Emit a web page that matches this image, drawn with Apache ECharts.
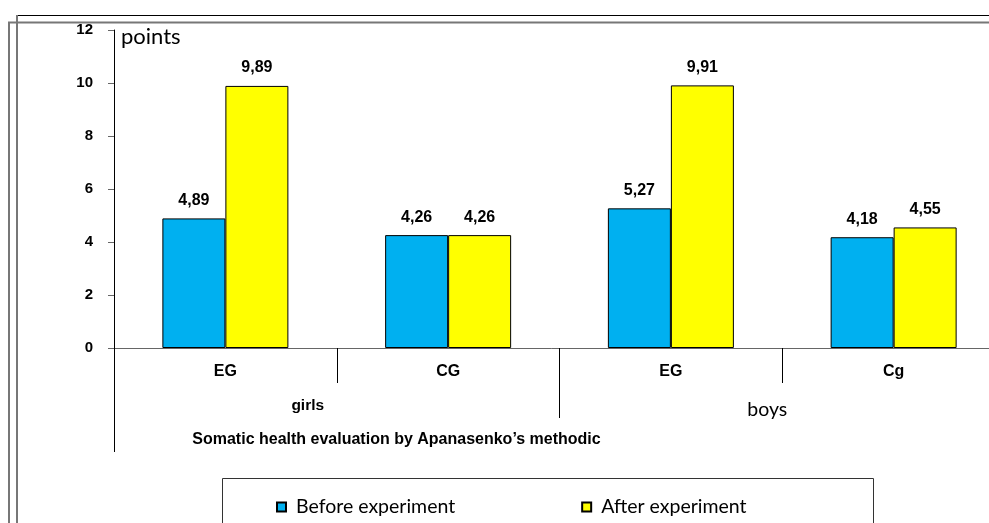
<!DOCTYPE html>
<html>
<head>
<meta charset="utf-8">
<title>Somatic health evaluation</title>
<script src="https://cdn.jsdelivr.net/npm/echarts@6/dist/echarts.min.js"></script>
<style>
  html, body { margin: 0; padding: 0; background: #fff; }
  #chart { width: 989px; height: 523px; }
</style>
</head>
<body>
<div id="chart"></div>
<script>
// Groups along the x axis
const categories = ['EG', 'CG', 'EG', 'Cg'];
const groups = ['girls', 'boys'];
const axisTitle = ['Somatic health evaluation by Apanasenko\u2019s methodic'];

// Scores in points
const beforeValues = [4.89, 4.26, 5.27, 4.18];
const afterValues = [9.89, 4.26, 9.91, 4.55];

const seriesNames = ['Before experiment', 'After experiment'];
const yTicks = [0, 2, 4, 6, 8, 10, 12];

const BOLD = 'Liberation Sans';
const SOFT = 'Lato';

const fmt = v => v.toFixed(2).replace('.', ',');

const chart = echarts.init(document.getElementById('chart'), null, { renderer: 'canvas' });

const barLabel = {
  show: true,
  position: 'top',
  distance: 10,
  fontFamily: BOLD,
  fontWeight: 'bold',
  fontSize: 16,
  color: '#000',
  formatter: p => fmt(p.value)
};

chart.setOption({
  animation: false,
  backgroundColor: '#fff',
  grid: {
    left: 114, top: 30, width: 891, height: 318,
    containLabel: false,
    outerBoundsMode: 'none'
  },
  legend: {
    left: 271,
    top: 492,
    itemWidth: 9,
    itemHeight: 9,
    itemGap: 126,
    icon: 'rect',
    textStyle: { fontFamily: SOFT, fontSize: 19.5, color: '#000', padding: [0, 0, 0, 5] },
    data: seriesNames
  },
  xAxis: [
    {
      type: 'category',
      data: categories,
      position: 'bottom',
      axisLine: { show: true, lineStyle: { color: '#666', width: 1 } },
      axisTick: { show: true, interval: 0, length: 35, lineStyle: { color: '#000' } },
      axisLabel: {
        interval: 0, margin: 16,
        fontFamily: BOLD, fontWeight: 'bold', fontSize: 16, color: '#000'
      }
    },
    {
      type: 'category',
      data: groups,
      position: 'bottom',
      axisLine: { show: false },
      axisTick: { show: true, interval: 0, length: 70, lineStyle: { color: '#000' } },
      axisLabel: {
        interval: 0, margin: 50,
        formatter: v => v === 'girls' ? '{g|' + v + '}' : '{b|' + v + '}',
        rich: {
          g: { fontFamily: BOLD, fontWeight: 'bold', fontSize: 15.5, color: '#000', padding: [0, 58, 0, 0] },
          b: { fontFamily: SOFT, fontSize: 19.5, color: '#000', padding: [2, 30, 0, 0] }
        }
      }
    },
    {
      type: 'category',
      data: axisTitle,
      position: 'bottom',
      axisLine: { show: false },
      axisTick: { show: true, interval: 0, length: 104, lineStyle: { color: '#000' } },
      axisLabel: {
        interval: 0, margin: 84,
        formatter: v => '{t|' + v + '}',
        rich: {
          t: { fontFamily: BOLD, fontWeight: 'bold', fontSize: 16, color: '#000', padding: [0, 326, 0, 0] }
        }
      }
    }
  ],
  yAxis: {
    type: 'value',
    min: yTicks[0],
    max: yTicks[yTicks.length - 1],
    interval: 2,
    name: 'points',
    nameLocation: 'end',
    nameGap: -7,
    nameTextStyle: {
      fontFamily: SOFT, fontSize: 22, color: '#000',
      align: 'left', verticalAlign: 'middle', padding: [0, 0, 0, 7]
    },
    axisLine: { show: true, lineStyle: { color: '#000', width: 1 } },
    axisTick: { show: true, length: 6, lineStyle: { color: '#666' } },
    splitLine: { show: false },
    axisLabel: {
      margin: 21,
      fontFamily: BOLD, fontWeight: 'bold', fontSize: 15, color: '#000'
    }
  },
  series: [
    {
      name: seriesNames[0],
      type: 'bar',
      xAxisIndex: 0,
      data: beforeValues,
      barWidth: 63,
      barGap: '0%',
      itemStyle: { color: '#00B0F0', borderColor: '#000', borderWidth: 1 },
      label: barLabel
    },
    {
      name: seriesNames[1],
      type: 'bar',
      xAxisIndex: 0,
      data: afterValues,
      barWidth: 63,
      barGap: '0%',
      itemStyle: { color: '#FFFF00', borderColor: '#000', borderWidth: 1 },
      label: barLabel
    }
  ],
  graphic: [
    // frame lines around the chart
    { type: 'line', shape: { x1: 17, y1: 15.5, x2: 989, y2: 15.5 }, style: { stroke: '#000', lineWidth: 1 }, silent: true },
    { type: 'line', shape: { x1: 8, y1: 22.5, x2: 989, y2: 22.5 }, style: { stroke: '#777', lineWidth: 2 }, silent: true },
    { type: 'line', shape: { x1: 9, y1: 22, x2: 9, y2: 523 }, style: { stroke: '#777', lineWidth: 2 }, silent: true },
    { type: 'line', shape: { x1: 17, y1: 15, x2: 17, y2: 523 }, style: { stroke: '#777', lineWidth: 2 }, silent: true },
    // legend frame
    { type: 'rect', shape: { x: 222.5, y: 478.5, width: 651, height: 60 }, style: { fill: null, stroke: '#333', lineWidth: 1 }, silent: true, z: -1 }
  ]
});
</script>
</body>
</html>
